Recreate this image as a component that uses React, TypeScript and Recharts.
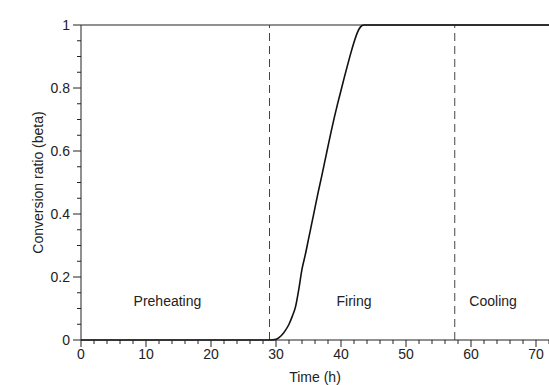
import {
  Line,
  LineChart,
  ReferenceDot,
  ReferenceLine,
  XAxis,
  YAxis,
} from "recharts";

// conversion ratio over the kiln schedule (hours)
const hours = [
  0, 29, 30, 30.5, 31, 31.5, 32, 32.5, 33, 33.5, 34, 34.5, 35, 35.5, 36, 36.5, 37, 37.5, 38,
  38.5, 39, 39.5, 40, 40.5, 41, 41.5, 42, 42.5, 43, 43.5, 72,
];
const beta = [
  0, 0, 0.002, 0.008, 0.018, 0.032, 0.05, 0.075, 0.105, 0.16, 0.225, 0.27, 0.32, 0.37, 0.42,
  0.47, 0.517, 0.566, 0.615, 0.663, 0.709, 0.752, 0.792, 0.833, 0.872, 0.91, 0.945, 0.975, 0.994,
  1, 1,
];

const xTicks = [
  0, 2, 4, 6, 8, 10, 12, 14, 16, 18, 20, 22, 24, 26, 28, 30, 32, 34, 36, 38, 40, 42, 44, 46, 48,
  50, 52, 54, 56, 58, 60, 62, 64, 66, 68, 70, 72,
];
const yTicks = [
  0, 0.05, 0.1, 0.15, 0.2, 0.25, 0.3, 0.35, 0.4, 0.45, 0.5, 0.55, 0.6, 0.65, 0.7, 0.75, 0.8,
  0.85, 0.9, 0.95, 1,
];

// stage boundaries and stage captions
const boundaries = [29, 57.5];
const phaseNames = ["Preheating", "Firing", "Cooling"];
const phaseX = [13.3, 42, 63.4];
const phaseY = 0.125;

const rows = hours.map((t, i) => ({ t, beta: beta[i] }));

const INK = "#222";
const FONT = "'Liberation Sans', Arial, sans-serif";

function XTick({ x, y, payload }: any) {
  const v = payload.value as number;
  const major = v % 10 === 0;
  return (
    <g>
      <line x1={x} x2={x} y1={y} y2={y + (major ? 7 : 4)} stroke={INK} />
      {major && (
        <text x={x} y={y + 19} textAnchor="middle" fontSize={14} fill={INK} fontFamily={FONT}>
          {v}
        </text>
      )}
    </g>
  );
}

function YTick({ x, y, payload }: any) {
  const v = payload.value as number;
  const major = Math.abs(v * 5 - Math.round(v * 5)) < 1e-6;
  return (
    <g>
      <line x1={x - (major ? 8 : 4)} x2={x} y1={y} y2={y} stroke={INK} />
      {major && (
        <text x={x - 11} y={y + 5} textAnchor="end" fontSize={14} fill={INK} fontFamily={FONT}>
          {Number(v.toFixed(1))}
        </text>
      )}
    </g>
  );
}

export default function App() {
  return (
    <div style={{ position: "absolute", left: 0, top: 0, width: 549, height: 385, background: "#fff" }}>
      <LineChart width={549} height={385} data={rows} margin={{ top: 25, right: 0, bottom: 0, left: 0 }}>
        <XAxis
          dataKey="t"
          type="number"
          domain={[0, 72]}
          ticks={xTicks}
          interval={0}
          tickSize={0}
          tickMargin={0}
          tick={<XTick />}
          height={45}
          stroke={INK}
          label={{
            value: "Time (h)",
            position: "insideBottom",
            offset: 3,
            style: { fontSize: 14, fill: INK, fontFamily: FONT },
          }}
        />
        <YAxis
          type="number"
          domain={[0, 1]}
          ticks={yTicks}
          interval={0}
          tickSize={0}
          tickMargin={0}
          tick={<YTick />}
          width={81}
          stroke={INK}
          label={{
            value: "Conversion ratio (beta)",
            angle: -90,
            position: "insideLeft",
            offset: 38,
            style: { fontSize: 14, fill: INK, fontFamily: FONT, textAnchor: "middle" },
          }}
        />
        <ReferenceLine y={1} stroke={INK} strokeWidth={1} />
        {boundaries.map((b) => (
          <ReferenceLine key={b} x={b} stroke="#444" strokeWidth={1} strokeDasharray="8 5" />
        ))}
        {phaseNames.map((name, i) => (
          <ReferenceDot
            key={name}
            x={phaseX[i]}
            y={phaseY}
            r={0}
            fill="none"
            stroke="none"
            label={{
              value: name,
              position: "center",
              style: { fontSize: 14, fill: INK, fontFamily: FONT },
            }}
          />
        ))}
        <Line
          type="monotone"
          dataKey="beta"
          stroke="#111"
          strokeWidth={1.6}
          dot={false}
          isAnimationActive={false}
        />
      </LineChart>
    </div>
  );
}
